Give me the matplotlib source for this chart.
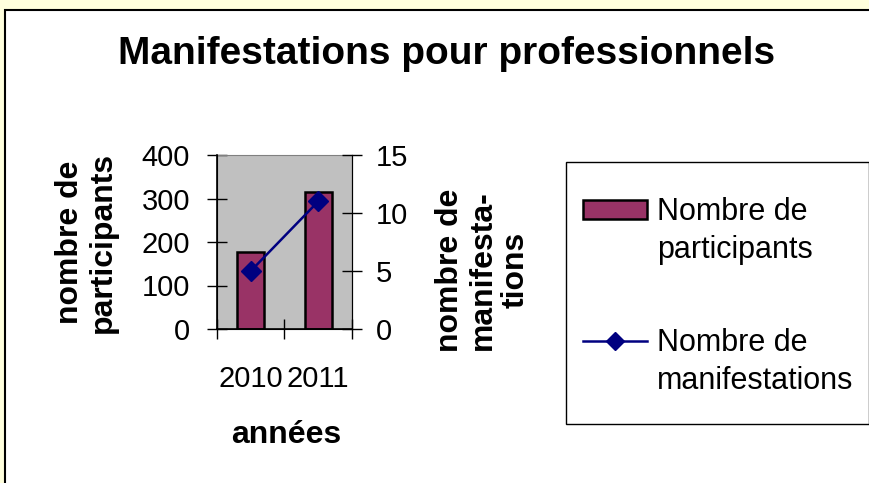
import matplotlib
matplotlib.use("Agg")
import matplotlib.pyplot as plt
from matplotlib.patches import Rectangle

years = ["2010", "2011"]
participants = [178, 316]
manifestations = [5, 11]

W, H = 870, 483
fig = plt.figure(figsize=(W / 100, H / 100), dpi=100)
fig.patch.set_facecolor("#ffffdd")
plt.rcParams["font.family"] = ["Liberation Sans", "DejaVu Sans"]

def fx(px):
    return px / W

def fy(py):
    return 1 - py / H

# white chart panel with border
fig.patches.append(Rectangle((fx(5), fy(H + 20)), fx(W + 20), (H + 10) / H,
                             transform=fig.transFigure, facecolor="white",
                             edgecolor="black", linewidth=1.5, zorder=-5))

ax = fig.add_axes([fx(217), fy(329), fx(352 - 217), (329 - 155) / H])
ax.set_zorder(1)
ax.set_facecolor("#c0c0c0")
x = list(range(len(years)))
bars = ax.bar(x, participants, width=0.4, color="#993366", edgecolor="black",
              linewidth=1.8, zorder=2)
ax.set_xlim(-0.5, len(years) - 0.5)
ax.set_ylim(0, 400)
ax.set_yticks([0, 100, 200, 300, 400])
ax.set_xticks(x)
ax.set_xticklabels(years)
ax.set_xticks([-0.5, 0.5, 1.5], minor=True)
ax.tick_params(axis="x", which="major", length=0, pad=26, labelsize=21)
ax.tick_params(axis="x", which="minor", direction="inout", length=15, width=1)
ax.tick_params(axis="y", direction="inout", length=15, width=1, labelsize=21, pad=12)
for s in ["left", "bottom"]:
    ax.spines[s].set_color("black")
    ax.spines[s].set_linewidth(1.2)
ax.spines["top"].set_color("#808080")
ax.spines["right"].set_color("black")

ax2 = ax.twinx()
line, = ax2.plot(x, manifestations, color="#000080", linewidth=1.8, marker="D",
                 markersize=10, markerfacecolor="#000080", markeredgecolor="#000080",
                 zorder=3)
ax2.set_ylim(0, 15)
ax2.set_yticks([0, 5, 10, 15])
ax2.tick_params(axis="y", direction="inout", length=15, width=1, labelsize=21, pad=9.5)
ax2.spines["top"].set_visible(False)

fig.text(fx(447), fy(54), "Manifestations pour professionnels", ha="center", va="center",
         fontsize=28, fontweight="bold")
fig.text(fx(86), fy(242), "nombre de\nparticipants", ha="center", va="center",
         rotation=90, fontsize=23, fontweight="bold", linespacing=1.12)
fig.text(fx(483), fy(270), "nombre de\nmanifesta-\ntions", ha="center", va="center",
         rotation=90, fontsize=23, fontweight="bold", linespacing=1.12)
fig.text(fx(286), fy(435), "années", ha="center", va="center",
         fontsize=23, fontweight="bold")

# legend frame
fig.patches.append(Rectangle((fx(566), fy(424)), fx(869 - 566), (424 - 162) / H,
                             transform=fig.transFigure, facecolor="white",
                             edgecolor="black", linewidth=1.0, zorder=-1))
leg = fig.legend([bars, line], ["Nombre de\nparticipants", "Nombre de\nmanifestations"],
                 loc="upper left", bbox_to_anchor=(fx(583), fy(197)),
                 frameon=False, fontsize=22,
                 handlelength=2.1, handleheight=0.6, handletextpad=0.33,
                 labelspacing=2.05, borderpad=0, borderaxespad=0)
for t in leg.get_texts():
    t.set_linespacing(1.35)

# align the legend handles with the first line of each label
shift = 16.0  # points, inside the handle boxes
h_bar, h_line = leg.legend_handles
h_bar.set_y(h_bar.get_y() + shift)
h_line.set_ydata([v + shift for v in h_line.get_ydata()])
h_line.set_markersize(9)

fig.savefig("out.png", dpi=100, facecolor=fig.get_facecolor())
